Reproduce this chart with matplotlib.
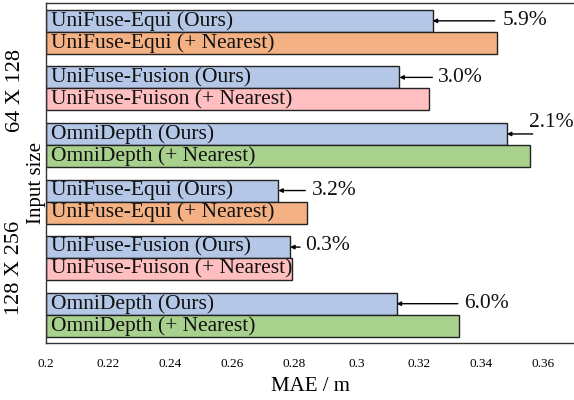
import matplotlib
matplotlib.use("Agg")
import matplotlib.pyplot as plt

plt.rcParams['font.family'] = ['Liberation Serif', 'DejaVu Serif']

labels = ["UniFuse-Equi (Ours)", "UniFuse-Equi (+ Nearest)",
          "UniFuse-Fusion (Ours)", "UniFuse-Fuison (+ Nearest)",
          "OmniDepth (Ours)", "OmniDepth (+ Nearest)",
          "UniFuse-Equi (Ours)", "UniFuse-Equi (+ Nearest)",
          "UniFuse-Fusion (Ours)", "UniFuse-Fuison (+ Nearest)",
          "OmniDepth (Ours)", "OmniDepth (+ Nearest)"]
values = [0.3245, 0.3452, 0.3138, 0.3234, 0.3484, 0.3557,
          0.2748, 0.2840, 0.2786, 0.2793, 0.3129, 0.3331]
colors = ["#B4C7E7", "#F4B183", "#B4C7E7", "#FFBFC0", "#B4C7E7", "#A9D18E",
          "#B4C7E7", "#F4B183", "#B4C7E7", "#FFBFC0", "#B4C7E7", "#A9D18E"]
improvements = ["5.9%", "3.0%", "2.1%", "3.2%", "0.3%", "6.0%"]
group_labels = ["64 X 128", "128 X 256"]
xticks = [0.2, 0.22, 0.24, 0.26, 0.28, 0.3, 0.32, 0.34, 0.36]
xticklabels = ["0.2", "0.22", "0.24", "0.26", "0.28", "0.3", "0.32", "0.34", "0.36"]

fig = plt.figure(figsize=(5.74, 4.0), dpi=100)
ax = fig.add_axes([46/574, 1 - 343/400, 1 - 46/574, 340/400])

bh = 0.39
ys = []
for i in range(len(values)):
    pair = i // 2
    y = pair + (-bh/2 if i % 2 == 0 else bh/2)
    ys.append(y)
ax.barh(ys, [v - 0.2 for v in values], left=0.2, height=bh, color=colors,
        edgecolor='#222222', linewidth=1.0)
for y, lab in zip(ys, labels):
    ax.text(0.2017, y, lab, va='center', ha='left', fontsize=15.5, color='#111111')

# arrows and percentage annotations (tail offset, text dx, text dy)
tail_len = [0.0200, 0.0106, 0.0083, 0.0087, 0.0032, 0.0197]
text_dx = [0.0027, 0.0017, -0.0013, 0.0022, 0.0017, 0.0020]
text_dy = [0.0, 0.0, -0.2, 0.0, -0.02, 0.0]
for p in range(6):
    v = values[2*p]
    y = ys[2*p]
    x_tail = v + tail_len[p]
    ax.annotate('', xy=(v, y), xytext=(x_tail, y),
                arrowprops=dict(arrowstyle='-|>', color='black', lw=1.0,
                                mutation_scale=6, shrinkA=0, shrinkB=0))
    ax.text(x_tail + text_dx[p], y + text_dy[p], improvements[p], va='center', ha='left',
            fontsize=15.5, color='#111111')

ax.set_xlim(0.2, 0.37)
ax.set_ylim(5.5, -0.51)
ax.set_xticks(xticks)
ax.set_xticklabels(xticklabels, fontsize=9.5)
ax.tick_params(axis='x', length=0, pad=11)
ax.set_yticks([])
for s in ['left', 'top', 'bottom']:
    ax.spines[s].set_color('#333333')
    ax.spines[s].set_linewidth(1.0)
ax.spines['right'].set_visible(False)

ax.set_xlabel("MAE / m", fontsize=15, labelpad=5)

fig.text(15/574, 1 - 90/400, group_labels[0], rotation=90, va='center', ha='center', fontsize=16)
fig.text(15/574, 1 - 268/400, group_labels[1], rotation=90, va='center', ha='center', fontsize=16)
fig.text(36/574, 1 - 183/400, "Input size", rotation=90, va='center', ha='center', fontsize=15)

fig.savefig("out.png", dpi=100)
